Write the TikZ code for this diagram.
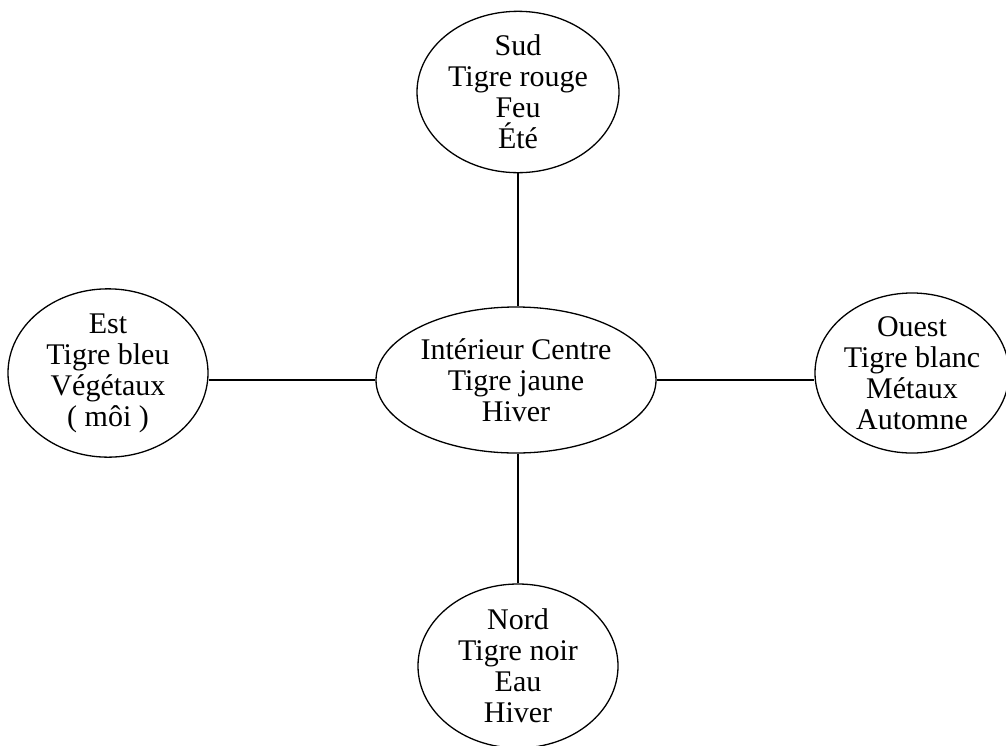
\documentclass[tikz,border=0pt]{standalone}
\usepackage{fontspec}
\setmainfont{Liberation Serif}
\usetikzlibrary{shapes.geometric}
\begin{document}
\begin{tikzpicture}[x=1pt,y=-1pt,
  zone/.style={draw, ellipse, inner sep=0pt, align=center,
    font=\fontsize{30}{31}\selectfont, line width=1.3pt},
  link/.style={line width=1.3pt}]
\useasboundingbox (0,0) rectangle (1006,745);
\node[zone, minimum width=202pt, minimum height=160pt] (sud) at (518,92)
  {Sud\\Tigre rouge\\Feu\\Été};
\node[zone, minimum width=280pt, minimum height=146pt] (centre) at (516,380)
  {Intérieur Centre\\Tigre jaune\\Hiver};
\node[zone, minimum width=200pt, minimum height=154pt] (est) at (108,373)
  {Est\\Tigre bleu\\Végétaux\\( môi )};
\node[zone, minimum width=194pt, minimum height=154pt] (ouest) at (912,373)
  {Ouest\\Tigre blanc\\Métaux\\Automne};
\node[zone, minimum width=200pt, minimum height=164pt] (nord) at (518,666)
  {Nord\\Tigre noir\\Eau\\Hiver};
\draw[link] (sud.south) -- (sud.south |- centre.north);
\draw[link] (nord.north) -- (nord.north |- centre.south);
\draw[link] (centre.west) -- (centre.west -| est.east);
\draw[link] (centre.east) -- (centre.east -| ouest.west);
\end{tikzpicture}
\end{document}
